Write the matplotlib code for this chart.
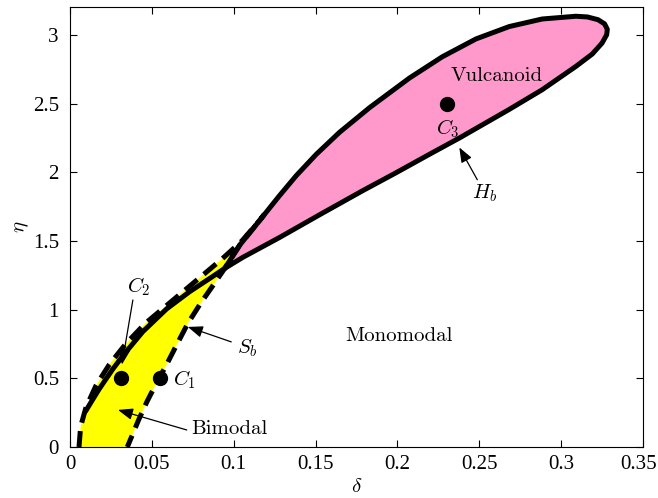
import matplotlib
matplotlib.use("Agg")
import matplotlib.pyplot as plt
import matplotlib.transforms as mtransforms

# S_b boundary (dashed): left branch going up, then right branch coming down
sb_delta = [0.0055, 0.0065, 0.0098, 0.016, 0.024, 0.034, 0.046, 0.058, 0.075,
            0.093, 0.105, 0.1159, 0.1185,
            0.1159, 0.1037, 0.0945, 0.087, 0.080, 0.072, 0.065, 0.059, 0.053,
            0.047, 0.042, 0.035]
sb_eta = [0.0, 0.15, 0.29, 0.45, 0.60, 0.75, 0.90, 1.02, 1.19,
          1.37, 1.50, 1.65, 1.69,
          1.65, 1.47, 1.30, 1.17, 1.05, 0.90, 0.74, 0.60, 0.47,
          0.33, 0.20, 0.0]

# H_b boundary (solid): tail from lower left, then loop around vulcanoid region
hb_delta = [0.0095, 0.0128, 0.0177, 0.026, 0.033, 0.0445, 0.059, 0.073, 0.087,
            0.0945, 0.1055, 0.128, 0.1524, 0.1787, 0.199, 0.2195, 0.238, 0.268,
            0.2884, 0.309, 0.319, 0.325, 0.3278, 0.3282, 0.3265, 0.3225, 0.316,
            0.309, 0.2884, 0.2683, 0.248, 0.2274, 0.2073, 0.183, 0.1646, 0.1504,
            0.1382, 0.128, 0.1159, 0.1037, 0.0945]
hb_eta = [0.26, 0.325, 0.42, 0.565, 0.675, 0.84, 1.005, 1.13, 1.24,
          1.30, 1.38, 1.525, 1.69, 1.865, 1.995, 2.13, 2.25, 2.455,
          2.60, 2.77, 2.86, 2.94, 3.00, 3.04, 3.08, 3.11, 3.13,
          3.135, 3.115, 3.06, 2.97, 2.84, 2.685, 2.47, 2.29, 2.13,
          1.975, 1.83, 1.65, 1.47, 1.30]

# index where the closed vulcanoid loop starts in hb arrays
loop_start = 9

case_delta = [0.055, 0.031, 0.2305]
case_eta = [0.5, 0.5, 2.5]

xticks = [0, 0.05, 0.1, 0.15, 0.2, 0.25, 0.3, 0.35]
xtick_labels = ["0", "0.05", "0.1", "0.15", "0.2", "0.25", "0.3", "0.35"]
yticks = [0, 0.5, 1, 1.5, 2, 2.5, 3]
ytick_labels = ["0", "0.5", "1", "1.5", "2", "2.5", "3"]

plt.rcParams['mathtext.fontset'] = 'cm'
tick_font = 'Liberation Serif'
text_font = 'cmr10'
fs = 15

fig = plt.figure(figsize=(6.58, 4.98), dpi=100)
ax = fig.add_axes([0.1064, 0.1024, 0.8708, 0.8829])

ax.fill(sb_delta, sb_eta, color=(1, 1, 0), lw=0, zorder=1)
ax.fill(hb_delta[loop_start:], hb_eta[loop_start:], color='#FF99CC', lw=0, zorder=2)
ax.plot(hb_delta, hb_eta, color='k', lw=3.6, solid_joinstyle='round',
        solid_capstyle='round', zorder=3)
ax.plot(sb_delta, sb_eta, color='k', lw=3.6, dashes=(3.2, 1.7),
        dash_capstyle='butt', zorder=4)
ax.plot(case_delta, case_eta, 'o', color='k', ms=10, zorder=5)

arrow = dict(arrowstyle='-|>,head_length=0.9,head_width=0.35', color='k',
             lw=0.9, shrinkA=0, shrinkB=0)

ax.annotate('', xy=(0.0317, 0.60), xytext=(0.0384, 1.07), arrowprops=arrow, zorder=6)
ax.text(0.0421, 1.165, r'$C_2$', fontsize=fs, ha='center', va='center')
ax.text(0.0701, 0.488, r'$C_1$', fontsize=fs, ha='center', va='center')
ax.annotate('', xy=(0.072, 0.874), xytext=(0.0985, 0.765), arrowprops=arrow, zorder=6)
ax.text(0.1085, 0.72, r'$S_b$', fontsize=fs, ha='center', va='center')
ax.annotate('', xy=(0.0293, 0.27), xytext=(0.0713, 0.124), arrowprops=arrow, zorder=6)
ax.text(0.0976, 0.131, 'Bimodal', fontsize=fs, family=text_font,
        ha='center', va='center')
ax.text(0.201, 0.808, 'Monomodal', fontsize=fs, family=text_font,
        ha='center', va='center')
ax.text(0.2604, 2.70, 'Vulcanoid', fontsize=fs, family=text_font,
        ha='center', va='center')
ax.text(0.2305, 2.32, r'$C_3$', fontsize=fs, ha='center', va='center')
ax.annotate('', xy=(0.2378, 2.18), xytext=(0.2488, 1.945), arrowprops=arrow, zorder=6)
ax.text(0.253, 1.85, r'$H_b$', fontsize=fs, ha='center', va='center')

ax.set_xlim(0, 0.35)
ax.set_ylim(0, 3.2)
ax.set_xticks(xticks)
ax.set_xticklabels(xtick_labels, family=tick_font, fontsize=fs)
ax.set_yticks(yticks)
ax.set_yticklabels(ytick_labels, family=tick_font, fontsize=fs)
ax.tick_params(direction='in', top=True, right=True, length=5, width=0.8)
ax.tick_params(axis='x', pad=6)
ax.tick_params(axis='y', pad=8)
for s in ax.spines.values():
    s.set_linewidth(0.8)

# last x label sits right at the figure edge, nudge it in a little
last = ax.get_xticklabels()[-1]
last.set_transform(last.get_transform() +
                   mtransforms.ScaledTranslation(-0.04, 0, fig.dpi_scale_trans))

ax.set_xlabel(r'$\delta$', fontsize=fs, labelpad=1)
ax.set_ylabel(r'$\eta$', fontsize=fs, labelpad=1)

fig.savefig('out.png', dpi=100)
